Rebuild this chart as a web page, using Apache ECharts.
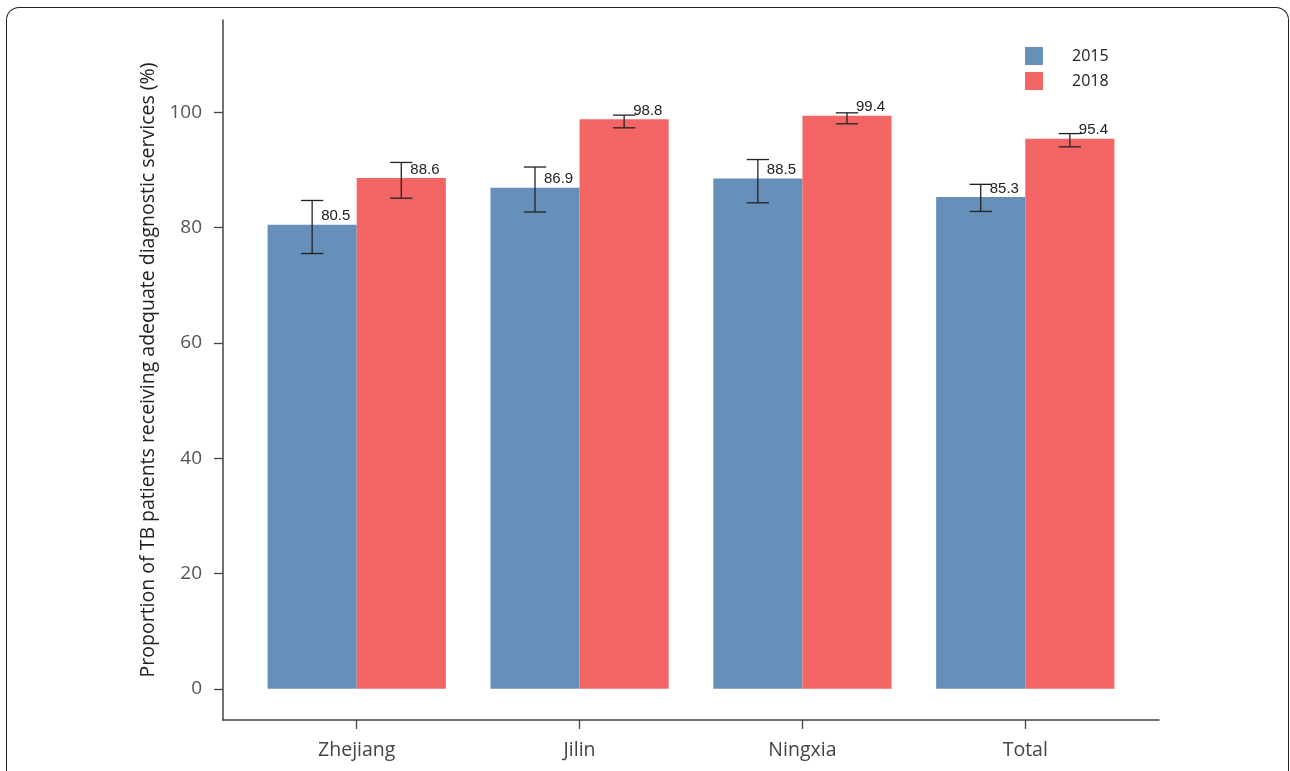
<!DOCTYPE html>
<html>
<head>
<meta charset="utf-8">
<script src="https://cdn.jsdelivr.net/npm/echarts@6/dist/echarts.min.js"></script>
<style>
  html, body { margin: 0; padding: 0; background: #fff; }
  #frame { position: absolute; left: 6px; top: 7px; width: 1283px; height: 780px;
           border: 1.5px solid #222; border-bottom: none; border-radius: 13px 13px 0 0; box-sizing: border-box; }
  #chart { position: absolute; left: 0; top: 0; width: 1290px; height: 771px; }
</style>
</head>
<body>
<div id="frame"></div>
<div id="chart"></div>
<script>
const categories = ['Zhejiang', 'Jilin', 'Ningxia', 'Total'];
const years = ['2015', '2018'];
const values2015 = [80.5, 86.9, 88.5, 85.3];
const values2018 = [88.6, 98.8, 99.4, 95.4];
const lower2015 = [75.5, 82.7, 84.3, 82.8];
const upper2015 = [84.7, 90.5, 91.8, 87.5];
const lower2018 = [85.1, 97.3, 98.0, 94.0];
const upper2018 = [91.3, 99.5, 99.9, 96.3];
const yTicks = [0, 20, 40, 60, 80, 100];

const colors = ['#668fba', '#f46666'];
const BAR_W = 0.4;
const CAP = 0.05;

function barSeries(name, values, idx) {
  const data = values.map((v, i) => [i + 1, v]);
  return {
    type: 'custom',
    name: name,
    itemStyle: { color: colors[idx] },
    data: data,
    encode: { x: 0, y: 1 },
    z: 2,
    renderItem: function (params, api) {
      const c = api.value(0), v = api.value(1);
      const x0 = idx === 0 ? c - BAR_W : c;
      const x1 = idx === 0 ? c : c + BAR_W;
      const p0 = api.coord([x0, v]);
      const p1 = api.coord([x1, 0]);
      return {
        type: 'rect',
        shape: { x: p0[0], y: p0[1], width: p1[0] - p0[0], height: p1[1] - p0[1] },
        style: { fill: colors[idx] }
      };
    }
  };
}

function errSeries(values, lower, upper, idx) {
  const data = values.map((v, i) => [i + 1, v, lower[i], upper[i]]);
  return {
    type: 'custom',
    name: 'err' + idx,
    data: data,
    encode: { x: 0, y: [1, 2, 3] },
    z: 5,
    silent: true,
    renderItem: function (params, api) {
      const c = api.value(0) + (idx === 0 ? -BAR_W / 2 : BAR_W / 2);
      const v = api.value(1), lo = api.value(2), hi = api.value(3);
      const pLo = api.coord([c, lo]);
      const pHi = api.coord([c, hi]);
      const pL = api.coord([c - CAP, lo]);
      const pR = api.coord([c + CAP, lo]);
      const top = api.coord([c, v]);
      const lineStyle = { stroke: '#222', lineWidth: 1.3 };
      const label = values[params.dataIndex].toFixed(1);
      return {
        type: 'group',
        children: [
          { type: 'line', shape: { x1: pLo[0], y1: pLo[1], x2: pHi[0], y2: pHi[1] }, style: lineStyle },
          { type: 'line', shape: { x1: pL[0], y1: pLo[1], x2: pR[0], y2: pLo[1] }, style: lineStyle },
          { type: 'line', shape: { x1: pL[0], y1: pHi[1], x2: pR[0], y2: pHi[1] }, style: lineStyle },
          { type: 'text', x: top[0] + 9, y: top[1] - 1,
            style: { text: label, fill: '#222', font: '15px "Liberation Sans", Arial, sans-serif',
                     textAlign: 'left', textVerticalAlign: 'bottom' } }
        ]
      };
    }
  };
}

const chart = echarts.init(document.getElementById('chart'), null, { renderer: 'canvas' });
chart.setOption({
  backgroundColor: 'transparent',
  animation: false,
  grid: { left: 223, right: 131, top: 20, bottom: 51, containLabel: false },
  legend: {
    orient: 'vertical',
    left: 1025, top: 47, padding: 0,
    itemWidth: 18, itemHeight: 18, itemGap: 7,
    icon: 'rect',
    data: years,
    textStyle: { fontFamily: '"Open Sans", sans-serif', fontSize: 16, color: '#222', padding: [0, 0, 0, 24] }
  },
  xAxis: {
    type: 'value',
    min: 0.4, max: 4.6,
    splitLine: { show: false },
    axisLine: { show: true, onZero: false, lineStyle: { color: '#444', width: 1.5 } },
    axisTick: { show: true, customValues: [1, 2, 3, 4], length: 9, inside: false, lineStyle: { color: '#444', width: 1.3 } },
    axisLabel: {
      customValues: [1, 2, 3, 4],
      formatter: function (v) { return categories[Math.round(v) - 1] || ''; },
      fontFamily: '"Open Sans", sans-serif', fontSize: 19.5, color: '#444', margin: 20
    }
  },
  yAxis: {
    type: 'value',
    min: -5.4, max: 116,
    name: 'Proportion of TB patients receiving adequate diagnostic services (%)',
    nameLocation: 'middle',
    nameGap: 65,
    nameTextStyle: { fontFamily: '"Open Sans", sans-serif', fontSize: 19.5, color: '#222' },
    splitLine: { show: false },
    axisLine: { show: true, onZero: false, lineStyle: { color: '#444', width: 1.5 } },
    axisTick: { show: true, customValues: yTicks, length: 9, lineStyle: { color: '#444', width: 1.3 } },
    axisLabel: {
      customValues: yTicks,
      fontFamily: '"Open Sans", sans-serif', fontSize: 19, color: '#555', margin: 21
    }
  },
  series: [
    barSeries('2015', values2015, 0),
    barSeries('2018', values2018, 1),
    errSeries(values2015, lower2015, upper2015, 0),
    errSeries(values2018, lower2018, upper2018, 1)
  ]
});
</script>
</body>
</html>
